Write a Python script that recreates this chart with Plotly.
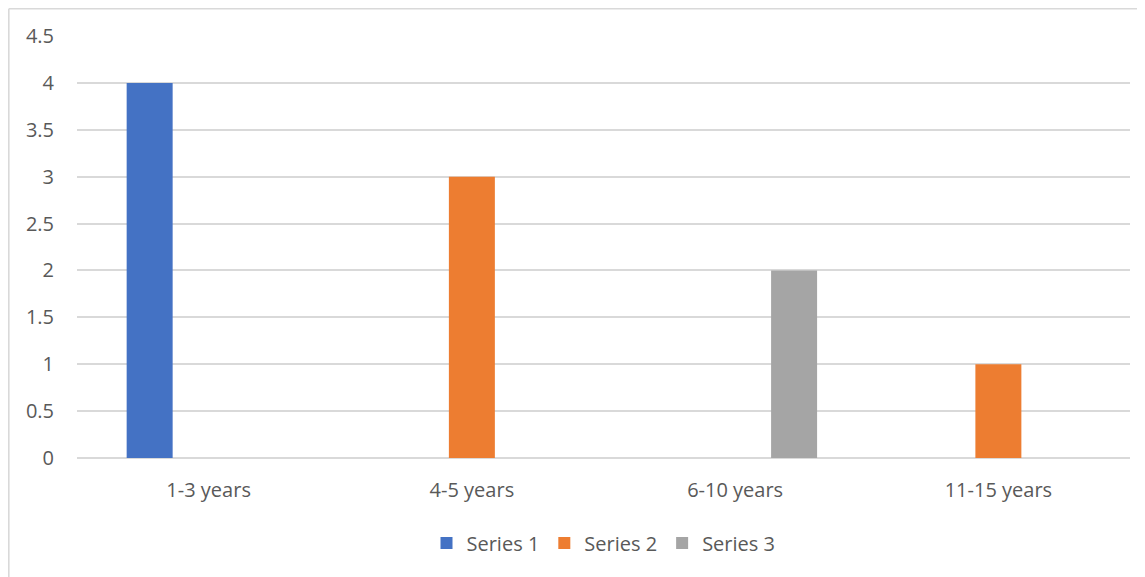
import plotly.graph_objects as go

categories = ["1-3 years", "4-5 years", "6-10 years", "11-15 years"]
series_names = ["Series 1", "Series 2", "Series 3"]
series1 = [4, 0, 0, 0]
series2 = [0, 3, 0, 1]
series3 = [0, 0, 2, 0]
y_ticks = [0, 0.5, 1, 1.5, 2, 2.5, 3, 3.5, 4, 4.5]
y_tick_labels = ["0", "0.5", "1", "1.5", "2", "2.5", "3", "3.5", "4", "4.5"]

colors = ["#4472C4", "#ED7D31", "#A5A5A5"]
font_family = "Open Sans, Noto Sans, sans-serif"
text_color = "#595959"

fig = go.Figure()
for name, vals, col in zip(series_names, [series1, series2, series3], colors):
    fig.add_trace(go.Bar(x=categories, y=vals, name=name, marker=dict(color=col, line=dict(width=0))))

OFF = 8  # page body margin
W, H = 1145 - OFF, 577 - OFF
L, T = 77 - OFF, 36 - OFF
R = W - (1130 - OFF)
B = H - (458 - OFF)
pw = W - L - R
ph = H - T - B

def fx(p):  # figure pixel -> paper x
    return (p - L) / pw

def fy(p):  # figure pixel -> paper y
    return (H - B - p) / ph

def px_y(p):  # page pixel -> paper y
    return fy(p - OFF)

fs = 20

fig.update_layout(
    width=W, height=H,
    margin=dict(l=L, r=R, t=T, b=B),
    paper_bgcolor="white", plot_bgcolor="white",
    barmode="group", bargap=0.328, bargroupgap=0.22,
    font=dict(family=font_family, size=fs, color=text_color),
    showlegend=True,
    legend=dict(orientation="h", x=0.5, xanchor="center", y=px_y(543), yanchor="middle",
                font=dict(size=fs, color=text_color), itemwidth=30, tracegroupgap=0),
    xaxis=dict(showgrid=False, showline=False, zeroline=False, ticks="",
               tickfont=dict(size=fs, color=text_color), ticklabelstandoff=18),
    yaxis=dict(range=[0, 4.5], tickvals=y_ticks, ticktext=y_tick_labels,
               showgrid=True, gridcolor="#D9D9D9", gridwidth=1.5,
               zeroline=True, zerolinecolor="#D9D9D9", zerolinewidth=1.5,
               showline=False, ticks="", tickfont=dict(size=fs, color=text_color),
               ticklabelstandoff=22),
    shapes=[
        dict(type="line", xref="paper", yref="paper", x0=fx(0.8), x1=fx(W + 5), y0=fy(0.8), y1=fy(0.8),
             line=dict(color="#D9D9D9", width=1.6)),
        dict(type="line", xref="paper", yref="paper", x0=fx(0.8), x1=fx(0.8), y0=fy(0.8), y1=fy(H + 5),
             line=dict(color="#D9D9D9", width=1.6)),
    ],
)

fig.write_html("out.html")
